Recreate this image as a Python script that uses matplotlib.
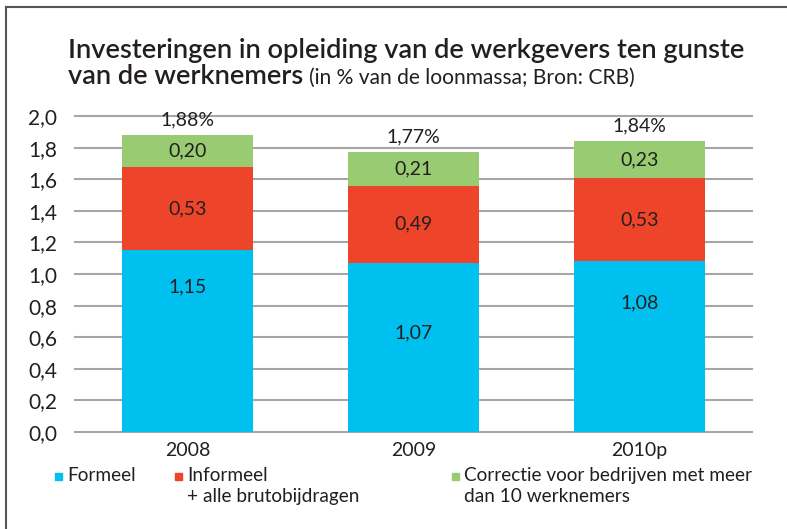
import matplotlib.pyplot as plt
from matplotlib.patches import Rectangle
from matplotlib.lines import Line2D

plt.rcParams['font.family'] = ['Lato', 'DejaVu Sans']

years = ['2008', '2009', '2010p']
formeel = [1.15, 1.07, 1.08]
informeel = [0.53, 0.49, 0.53]
correctie = [0.20, 0.21, 0.23]
totals = [1.88, 1.77, 1.84]
yticks = [0.0, 0.2, 0.4, 0.6, 0.8, 1.0, 1.2, 1.4, 1.6, 1.8, 2.0]

c_blue = '#00c0f0'
c_red = '#ee452a'
c_green = '#98cb72'
txt = '#231f20'
W, H = 787, 529

fig = plt.figure(figsize=(7.87, 5.29), dpi=100)
ax = fig.add_axes([75 / W, 1 - 432 / H, 677 / W, 316 / H])

x = range(len(years))
w = 0.58
bot2 = [a + b for a, b in zip(formeel, informeel)]
ax.bar(x, formeel, w, color=c_blue, zorder=3)
ax.bar(x, informeel, w, bottom=formeel, color=c_red, zorder=3)
ax.bar(x, correctie, w, bottom=bot2, color=c_green, zorder=3)

fmt = lambda v: ('%.2f' % v).replace('.', ',')
blue_label_y = [0.92, 0.63, 0.82]
fs = 14
for i in x:
    ax.text(i, blue_label_y[i], fmt(formeel[i]), ha='center', va='center', fontsize=fs, color=txt, zorder=4)
    ax.text(i, formeel[i] + informeel[i] / 2, fmt(informeel[i]), ha='center', va='center', fontsize=fs, color=txt, zorder=4)
    ax.text(i, bot2[i] + correctie[i] / 2, fmt(correctie[i]), ha='center', va='center', fontsize=fs, color=txt, zorder=4)
    ax.annotate(fmt(totals[i]) + '%', (i, bot2[i] + correctie[i]), xytext=(0, 11), textcoords='offset points',
                ha='center', va='center', fontsize=fs, color=txt)

ax.set_xlim(-0.5, 2.5)
ax.set_ylim(0, 2.0)
ax.set_yticks(yticks)
ax.set_yticklabels([('%.1f' % t).replace('.', ',') for t in yticks], fontsize=15, color=txt)
ax.set_xticks(list(x))
ax.set_xticklabels(years, fontsize=14, color=txt)
ax.tick_params(length=0, pad=7)
ax.tick_params(axis='y', pad=13)
for s in ax.spines.values():
    s.set_visible(False)
ax.yaxis.grid(True, color='#a6a6a6', linewidth=1.5, zorder=0, clip_on=False)

# frame lines (top and left)
fig.add_artist(Line2D([6 / W, 1], [1 - 7 / H, 1 - 7 / H], color='#555555', linewidth=1.5))
fig.add_artist(Line2D([6 / W, 6 / W], [0, 1 - 7 / H], color='#555555', linewidth=1.5))

# title, sized to the reference width
t1 = fig.text(68 / W, 1 - 58 / H, 'Investeringen in opleiding van de werkgevers ten gunste',
              fontsize=22, fontweight='semibold', color=txt, va='baseline')
fig.canvas.draw()
r = fig.canvas.get_renderer()
size = 22 * 677 / t1.get_window_extent(r).width
t1.set_fontsize(size)
t2 = fig.text(68 / W, 1 - 84 / H, 'van de werknemers', fontsize=size, fontweight='semibold', color=txt, va='baseline')
fig.canvas.draw()
bb = t2.get_window_extent(r)
fig.text((bb.x1 + 6) / W, 1 - 84 / H, '(in % van de loonmassa; Bron: CRB)', fontsize=size * 0.77, color=txt, va='baseline')

# legend
items = [(58, c_blue, 'Formeel'), (178, c_red, 'Informeel\n+ alle brutobijdragen'),
         (455, c_green, 'Correctie voor bedrijven met meer\ndan 10 werknemers')]
for px, col, lab in items:
    fig.add_artist(Rectangle(((px - 3) / W, 1 - 480 / H), 7 / W, 7 / H, color=col, transform=fig.transFigure))
    fig.text((px + 9) / W, 1 - 467 / H, lab, fontsize=13.7, color=txt, va='top', linespacing=1.3)

fig.savefig('out.png', dpi=100)
